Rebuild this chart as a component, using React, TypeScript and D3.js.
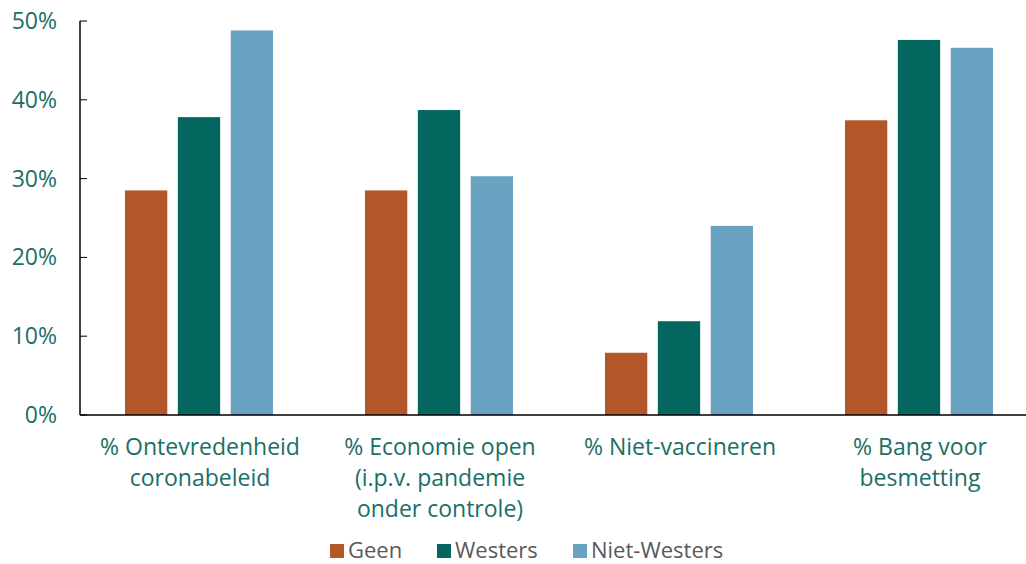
import * as d3 from "d3";

const categories = [
  ["% Ontevredenheid", "coronabeleid"],
  ["% Economie open", "(i.p.v. pandemie", "onder controle)"],
  ["% Niet-vaccineren"],
  ["% Bang voor", "besmetting"],
];
const seriesNames = ["Geen", "Westers", "Niet-Westers"];
const geen = [28.5, 28.5, 7.9, 37.4];
const westers = [37.8, 38.7, 11.9, 47.6];
const nietWesters = [48.8, 30.3, 24.0, 46.6];
const yTicks = [0, 10, 20, 30, 40, 50];
const colors = ["#b35729", "#03665f", "#6aa3c2"];

const W = 1026;
const H = 564;
const margin = { top: 21, left: 80 };
const FONT = "'Open Sans', sans-serif";

export default function App() {
  const bandW = 240;
  const innerH = 415 - margin.top;
  const series = [geen, westers, nietWesters];

  const x0 = d3
    .scaleBand<number>()
    .domain(d3.range(categories.length))
    .range([0, bandW * categories.length]);
  const x1 = d3
    .scaleBand<number>()
    .domain(d3.range(seriesNames.length))
    .range([0, 148])
    .paddingInner(0.2);
  const y = d3.scaleLinear().domain([0, 50]).range([innerH, 0]);

  const legendX = [330, 437, 573];

  return (
    <svg width={W} height={H} style={{ position: "absolute", left: 0, top: 0, fontFamily: FONT }}>
      <g transform={`translate(${margin.left},${margin.top})`}>
        {categories.map((_, ci) => (
          <g key={ci} transform={`translate(${x0(ci)! + x0.bandwidth() / 2 - 75},0)`}>
            {series.map((vals, si) => (
              <rect
                key={si}
                x={x1(si)}
                y={y(vals[ci])}
                width={x1.bandwidth()}
                height={innerH - y(vals[ci])}
                fill={colors[si]}
              />
            ))}
          </g>
        ))}
        {/* y axis */}
        <line x1={0} x2={0} y1={0} y2={innerH} stroke="#000" strokeWidth={1.5} />
        {yTicks.map((t) => (
          <g key={t} transform={`translate(0,${y(t)})`}>
            <line x1={0} x2={7} stroke="#000" strokeWidth={1} />
            <text x={-23} dy="0.35em" textAnchor="end" fill="#1a6f66" fontSize={23}>
              {t}%
            </text>
          </g>
        ))}
        {/* x axis */}
        <line x1={0} x2={W - margin.left} y1={innerH} y2={innerH} stroke="#000" strokeWidth={1.5} />
        {categories.map((lines, ci) => (
          <text
            key={ci}
            x={x0(ci)! + x0.bandwidth() / 2}
            y={innerH + 40}
            textAnchor="middle"
            fill="#1a6f66"
            fontSize={23}
          >
            {lines.map((l, li) => (
              <tspan key={li} x={x0(ci)! + x0.bandwidth() / 2} dy={li === 0 ? 0 : 31}>
                {l}
              </tspan>
            ))}
          </text>
        ))}
      </g>
      {/* legend */}
      {seriesNames.map((name, i) => (
        <g key={name} transform={`translate(${legendX[i]},558)`}>
          <rect x={0} y={-14} width={14} height={14} fill={colors[i]} />
          <text x={18} fill="#595959" fontSize={22}>
            {name}
          </text>
        </g>
      ))}
    </svg>
  );
}
